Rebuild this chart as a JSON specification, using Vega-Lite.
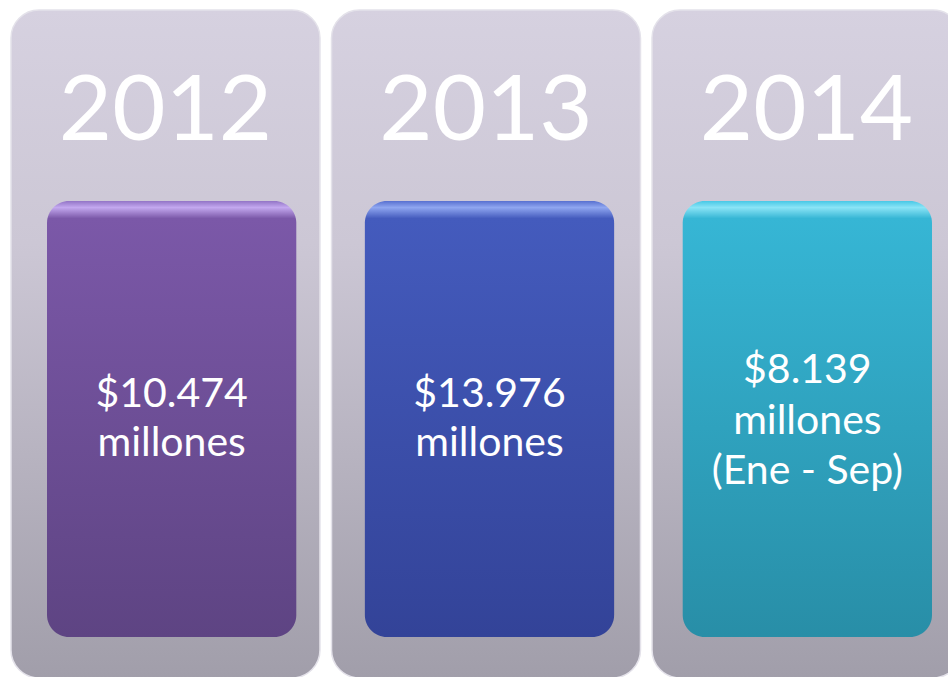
{
  "$schema": "https://vega.github.io/schema/vega-lite/v6.json",
  "width": 948,
  "height": 677,
  "autosize": {"type": "none"},
  "padding": 0,
  "background": "#ffffff",
  "config": {"view": {"stroke": null}},
  "data": {
    "values": [
      {"year": "2012", "label": "$10.474\nmillones"},
      {"year": "2013", "label": "$13.976\nmillones"},
      {"year": "2014", "label": "$8.139\nmillones\n(Ene - Sep)"}
    ]
  },
  "resolve": {"scale": {"x": "independent"}},
  "layer": [
    {
      "mark": {
        "type": "rect",
        "cornerRadius": 28,
        "stroke": "#e4e2ea",
        "strokeWidth": 1.5,
        "color": {
          "gradient": "linear", "x1": 0, "y1": 0, "x2": 0, "y2": 1,
          "stops": [
            {"offset": 0, "color": "#d6d1e0"},
            {"offset": 0.35, "color": "#ccc7d5"},
            {"offset": 1, "color": "#a19eaa"}
          ]
        }
      },
      "encoding": {
        "x": {"field": "year", "type": "nominal", "axis": null,
              "scale": {"type": "band", "domain": ["2012", "2013", "2014"], "range": [11, 961], "paddingInner": 0.036, "paddingOuter": 0}},
        "y": {"datum": 10, "type": "quantitative", "axis": null,
              "scale": {"domain": [0, 677], "reverse": true, "nice": false, "zero": false}},
        "y2": {"datum": 678}
      }
    },
    {
      "transform": [{"filter": "datum.year === '2012'"}],
      "mark": {
        "type": "rect",
        "cornerRadius": 22,
        "color": {
          "gradient": "linear", "x1": 0, "y1": 0, "x2": 0, "y2": 1,
          "stops": [
            {"offset": 0, "color": "#9274c6"},
            {"offset": 0.015, "color": "#c3a8ef"},
            {"offset": 0.04, "color": "#7b58a8"},
            {"offset": 1, "color": "#5e4483"}
          ]
        }
      },
      "encoding": {
        "x": {"field": "year", "type": "nominal", "axis": null,
              "scale": {"type": "band", "domain": ["2012", "2013", "2014"], "range": [47, 932], "paddingInner": 0.2157, "paddingOuter": 0}},
        "y": {"datum": 201, "type": "quantitative"},
        "y2": {"datum": 637}
      }
    },
    {
      "transform": [{"filter": "datum.year === '2013'"}],
      "mark": {
        "type": "rect",
        "cornerRadius": 22,
        "color": {
          "gradient": "linear", "x1": 0, "y1": 0, "x2": 0, "y2": 1,
          "stops": [
            {"offset": 0, "color": "#5870d0"},
            {"offset": 0.015, "color": "#8fa6f0"},
            {"offset": 0.04, "color": "#445bbd"},
            {"offset": 1, "color": "#334398"}
          ]
        }
      },
      "encoding": {
        "x": {"field": "year", "type": "nominal", "axis": null,
              "scale": {"type": "band", "domain": ["2012", "2013", "2014"], "range": [47, 932], "paddingInner": 0.2157, "paddingOuter": 0}},
        "y": {"datum": 201, "type": "quantitative"},
        "y2": {"datum": 637}
      }
    },
    {
      "transform": [{"filter": "datum.year === '2014'"}],
      "mark": {
        "type": "rect",
        "cornerRadius": 22,
        "color": {
          "gradient": "linear", "x1": 0, "y1": 0, "x2": 0, "y2": 1,
          "stops": [
            {"offset": 0, "color": "#48c8e6"},
            {"offset": 0.015, "color": "#8ae4f6"},
            {"offset": 0.04, "color": "#36b6d5"},
            {"offset": 1, "color": "#288ea7"}
          ]
        }
      },
      "encoding": {
        "x": {"field": "year", "type": "nominal", "axis": null,
              "scale": {"type": "band", "domain": ["2012", "2013", "2014"], "range": [47, 932], "paddingInner": 0.2157, "paddingOuter": 0}},
        "y": {"datum": 201, "type": "quantitative"},
        "y2": {"datum": 637}
      }
    },
    {
      "mark": {"type": "text", "font": "Lato", "fontSize": 92, "color": "#ffffff", "baseline": "alphabetic", "align": "center"},
      "encoding": {
        "x": {"field": "year", "type": "nominal", "axis": null,
              "scale": {"type": "band", "domain": ["2012", "2013", "2014"], "range": [11, 961], "paddingInner": 0.036, "paddingOuter": 0}},
        "y": {"datum": 140, "type": "quantitative"},
        "text": {"field": "year"}
      }
    },
    {
      "transform": [{"filter": "datum.year !== '2014'"}],
      "mark": {"type": "text", "font": "Lato", "fontSize": 41, "lineHeight": 49, "lineBreak": "\n", "color": "#ffffff", "baseline": "middle", "align": "center"},
      "encoding": {
        "x": {"field": "year", "type": "nominal", "axis": null,
              "scale": {"type": "band", "domain": ["2012", "2013", "2014"], "range": [47, 932], "paddingInner": 0.2157, "paddingOuter": 0}},
        "y": {"datum": 395, "type": "quantitative"},
        "text": {"field": "label"}
      }
    },
    {
      "transform": [{"filter": "datum.year === '2014'"}],
      "mark": {"type": "text", "font": "Lato", "fontSize": 41, "lineHeight": 50.5, "lineBreak": "\n", "color": "#ffffff", "baseline": "middle", "align": "center"},
      "encoding": {
        "x": {"field": "year", "type": "nominal", "axis": null,
              "scale": {"type": "band", "domain": ["2012", "2013", "2014"], "range": [47, 932], "paddingInner": 0.2157, "paddingOuter": 0}},
        "y": {"datum": 371, "type": "quantitative"},
        "text": {"field": "label"}
      }
    }
  ]
}
